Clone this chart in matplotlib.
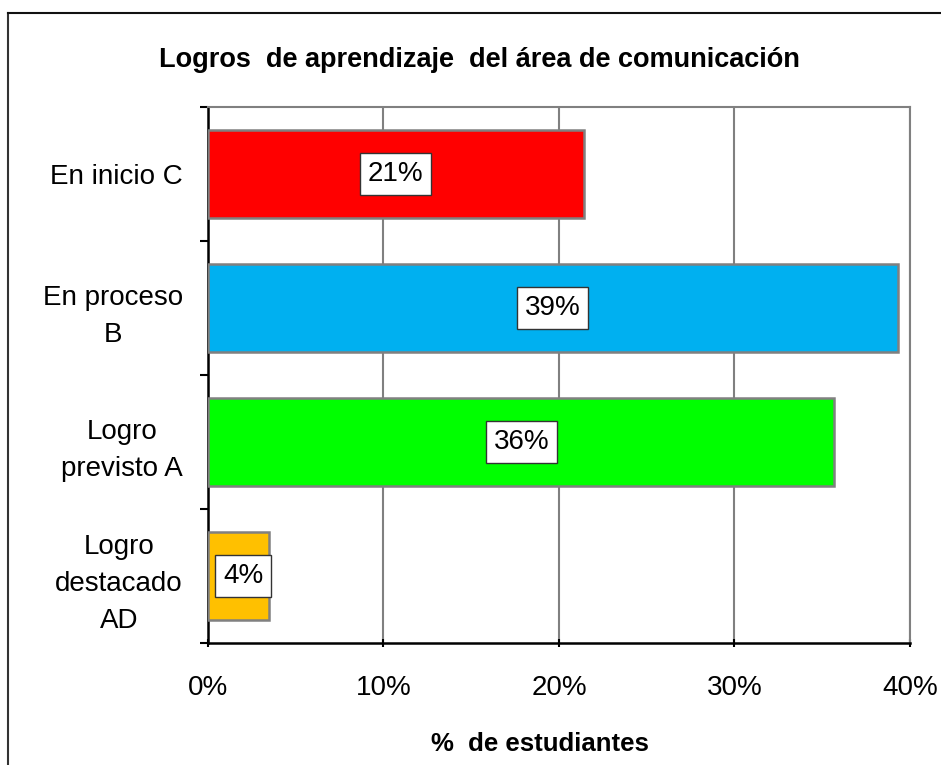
import matplotlib.pyplot as plt
from matplotlib.lines import Line2D
from matplotlib.ticker import PercentFormatter

plt.rcParams["font.family"] = ["Liberation Sans", "DejaVu Sans"]

# datos (de abajo hacia arriba)
categorias = ["Logro\ndestacado\nAD", "Logro\nprevisto A", "En proceso\nB", "En inicio C"]
porcentajes = [3.5, 35.7, 39.3, 21.4]
etiquetas = ["4%", "36%", "39%", "21%"]
colores = ["#FFC000", "#00FF00", "#00B0F0", "#FF0000"]

fig = plt.figure(figsize=(9.41, 7.65), dpi=100)
ax = fig.add_axes([0.221, 0.1595, 0.746, 0.7005])

pos = range(len(categorias))
ax.barh(pos, porcentajes, height=0.66, color=colores,
        edgecolor="#808080", linewidth=1.8, zorder=3)

for i, (v, t) in enumerate(zip(porcentajes, etiquetas)):
    x = v / 2 if v > 10 else 2.0
    ax.text(x, i, t, ha="center", va="center", fontsize=20, zorder=4,
            bbox=dict(boxstyle="square,pad=0.28", facecolor="white",
                      edgecolor="#333333", linewidth=1))

ax.set_xlim(0, 40)
ax.set_ylim(-0.5, 3.5)
ax.set_xticks([0, 10, 20, 30, 40])
ax.xaxis.set_major_formatter(PercentFormatter(decimals=0))
ax.set_yticks([-0.5, 0.5, 1.5, 2.5, 3.5])
ax.set_yticklabels([])
ax.set_yticks(list(pos), minor=True)
ax.set_yticklabels(categorias, minor=True, fontsize=20,
                   multialignment="center", linespacing=1.55)
ax.tick_params(axis="y", which="minor", length=0, pad=18)
ax.tick_params(axis="y", which="major", length=6, width=1.5, direction="out")
ax.tick_params(axis="x", length=6, width=1.5, direction="inout", labelsize=20, pad=20)

ax.grid(axis="x", color="#808080", linewidth=1.5, zorder=0)
ax.spines["top"].set_color("#808080")
ax.spines["right"].set_color("#808080")
ax.spines["top"].set_linewidth(1.5)
ax.spines["right"].set_linewidth(1.5)
ax.spines["left"].set_linewidth(1.8)
ax.spines["bottom"].set_linewidth(1.8)

ax.set_xlabel("%  de estudiantes", fontsize=18.5, fontweight="bold")
ax.xaxis.set_label_coords(0.473, -0.167)

fig.text(0.51, 0.921, "Logros  de aprendizaje  del área de comunicación",
         ha="center", va="center", fontsize=19.5, fontweight="bold")

# marco exterior (recortado a la derecha y abajo)
fig.add_artist(Line2D([8 / 941, 8 / 941], [0, 1 - 13 / 765], color="#333333", linewidth=1.5))
fig.add_artist(Line2D([8 / 941, 1], [1 - 13 / 765, 1 - 13 / 765], color="#111111", linewidth=1.5))

plt.savefig("out.png", dpi=100)
